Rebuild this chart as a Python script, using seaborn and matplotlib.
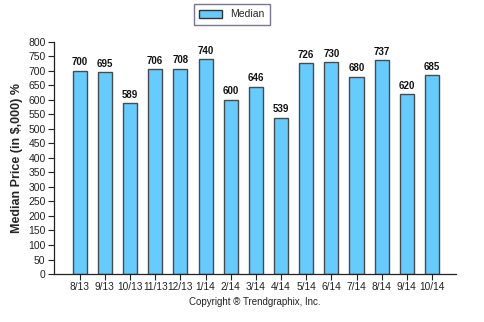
import matplotlib
matplotlib.use("Agg")
import matplotlib.pyplot as plt
import seaborn as sns
import pandas as pd
from matplotlib.patches import Patch

months = ["8/13", "9/13", "10/13", "11/13", "12/13", "1/14", "2/14", "3/14",
          "4/14", "5/14", "6/14", "7/14", "8/14", "9/14", "10/14"]
median = [700, 695, 589, 706, 708, 740, 600, 646, 539, 726, 730, 680, 737, 620, 685]
yticks = list(range(0, 801, 50))

df = pd.DataFrame({"month": months, "median": median})

sns.set_style("white")
plt.rcParams['font.family'] = ['Liberation Sans', 'DejaVu Sans']

fig = plt.figure(figsize=(4.85, 3.22), dpi=100)
ax = fig.add_axes([0.111, 0.149, 0.829, 0.721])

bar_color = "#66CCFF"
sns.barplot(data=df, x="month", y="median", ax=ax, color=bar_color,
            width=0.56, edgecolor="#4a4a4a", linewidth=1.0, saturation=1)

for i, v in enumerate(median):
    ax.text(i, v + 12, str(v), ha="center", va="bottom", fontsize=7,
            fontweight="bold", color="#111111")

ax.set_xlim(-1.03, 14.95)
ax.set_ylim(0, 800)
ax.set_yticks(yticks)
ax.set_yticklabels([str(t) for t in yticks], fontsize=7.5, color="#222222")
ax.set_xticks(range(len(months)))
ax.set_xticklabels(months, fontsize=7.3, color="#222222")
ax.tick_params(axis="both", which="both", length=4, width=0.8, color="#222222",
               direction="out", pad=2)
ax.tick_params(axis="y", left=True)
ax.tick_params(axis="x", bottom=True)

for s in ["top", "right"]:
    ax.spines[s].set_visible(False)
for s in ["left", "bottom"]:
    ax.spines[s].set_color("#222222")
    ax.spines[s].set_linewidth(0.9)

ax.set_xlabel("")
ax.set_ylabel("Median Price (in $,000) %", fontsize=9, fontweight="bold", labelpad=4)

leg = fig.legend(handles=[Patch(facecolor=bar_color, edgecolor="#333333", label="Median")],
                 loc="center", bbox_to_anchor=(0.478, 0.955), fontsize=7.5,
                 frameon=True, fancybox=False, handlelength=2.2, handleheight=0.9,
                 borderpad=0.5)
leg.get_frame().set_edgecolor("#555577")
leg.get_frame().set_linewidth(1.0)

fig.text(0.525, 0.063, "Copyright \u00ae Trendgraphix, Inc.", ha="center", va="center",
         fontsize=7, color="#222222")

fig.savefig("out.png", dpi=100)
